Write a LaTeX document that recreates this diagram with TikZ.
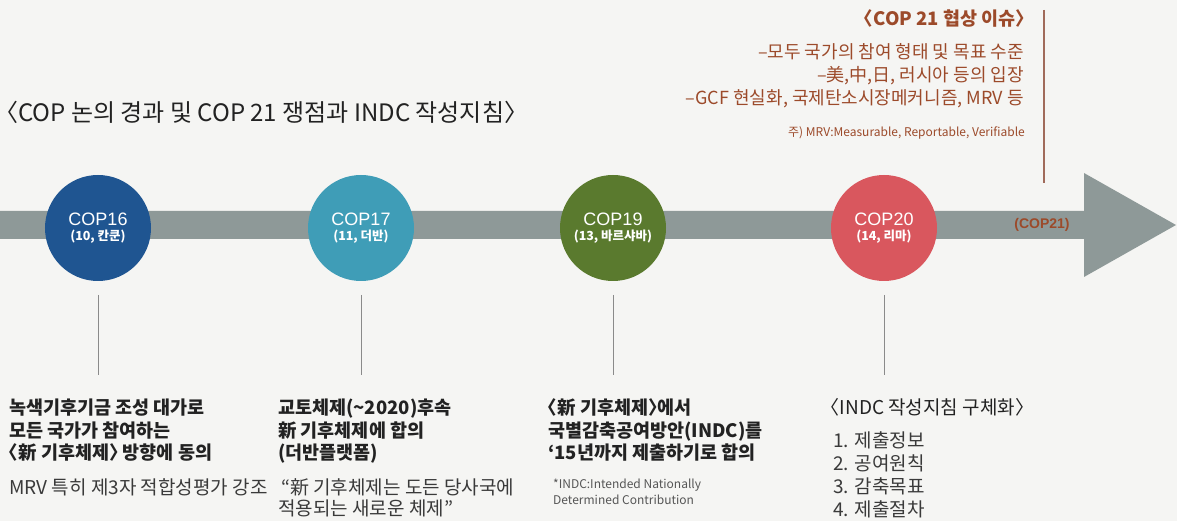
\documentclass[tikz,border=0pt]{standalone}
\usepackage{fontspec}
\newfontfamily\kr[CharacterWidth=AlternateHalf]{Noto Sans CJK KR}
\newfontfamily\ar{Liberation Sans}
\newcommand\myfs[1]{\fontsize{#1bp}{#1bp}\selectfont}
\newcommand\subf{\kr\bfseries\myfs{12.5}}
\definecolor{paper}{HTML}{F5F5F3}
\definecolor{bargray}{HTML}{8E9998}
\definecolor{c16}{HTML}{1F5591}
\definecolor{c17}{HTML}{3F9DB7}
\definecolor{c19}{HTML}{5A7A2E}
\definecolor{c20}{HTML}{D9575E}
\definecolor{brownt}{HTML}{9C4A2A}
\definecolor{brownl}{HTML}{A06A5A}
\definecolor{darkt}{HTML}{222222}
\definecolor{midt}{HTML}{3A3A3A}
\definecolor{lightt}{HTML}{555555}
\definecolor{vline}{HTML}{8A8A8A}
\begin{document}
\begin{tikzpicture}[x=1bp,y=-1bp,
  cop/.style={circle, fill=#1, minimum size=106bp, inner sep=0, text=white, align=center, font=\ar\myfs{18}},
  txt/.style={inner sep=0, anchor=base west},
  rtxt/.style={inner sep=0, anchor=base east},
  bold/.style={txt, text=darkt, font=\kr\bfseries\myfs{18.5}},
  norm/.style={txt, text=midt, font=\kr\myfs{19}},
  small/.style={txt, text=lightt, font=\kr\myfs{12}},
  brown/.style={rtxt, text=brownt, font=\kr\myfs{18}},
  tick/.style={vline, line width=1bp}
]
\useasboundingbox (0,0) rectangle (1177,521);
\fill[paper] (0,0) rectangle (1177,521);

% title
\node[txt, text=darkt, font=\kr\myfs{24}] (title) at (6,122) {〈COP 논의 경과 및 COP 21 쟁점과 INDC 작성지침〉};

% timeline arrow
\fill[bargray] (0,211) -- (1084,211) -- (1084,173) -- (1176,225) -- (1084,277) -- (1084,239) -- (0,239) -- cycle;

% circles
\node[cop=c16] (n16) at (98,228) {COP16\\[-3bp]{\subf (10, 칸쿤)}};
\node[cop=c17] (n17) at (361,228) {COP17\\[-3bp]{\subf (11, 더반)}};
\node[cop=c19] (n19) at (613,228) {COP19\\[-3bp]{\subf (13, 바르샤바)}};
\node[cop=c20] (n20) at (884,228) {COP20\\[-3bp]{\subf (14, 리마)}};
\node[inner sep=0, text=brownt, font=\ar\bfseries\myfs{14}] (n21) at (1042,225) {(COP21)};

% ticks below circles
\foreach \n/\x in {16/98,17/361,19/613,20/884}{
  \coordinate (t\n a) at (\x,295);
  \coordinate (t\n b) at (\x,375);
  \draw[tick] (t\n a) -- (t\n b);
}

% top right issues
\coordinate (ra) at (1044,10);
\coordinate (rb) at (1044,183);
\draw[brownl, line width=1.2bp] (ra) -- (rb);
\node[rtxt, text=brownt, font=\kr\bfseries\myfs{18.5}] (iss) at (1025,26) {〈COP 21 협상 이슈〉};
\node[brown] (is1) at (1024,59) {–모두 국가의 참여 형태 및 목표 수준};
\node[brown] (is2) at (1024,82) {–美,中,日, 러시아 등의 입장};
\node[brown] (is3) at (1024,105) {–GCF 현실화, 국제탄소시장메커니즘, MRV 등};
\node[rtxt, text=brownt, font=\kr\myfs{12}] (isn) at (1025,137) {주) MRV:Measurable, Reportable, Verifiable};

% column 1
\node[bold] (a1) at (9,414) {녹색기후기금 조성 대가로};
\node[bold] (a2) at (9,437) {모든 국가가 참여하는};
\node[bold] (a3) at (9,459) {〈新 기후체제〉 방향에 동의};
\node[norm] (a4) at (9,494) {MRV 특히 제3자 적합성평가 강조};

% column 2
\node[bold] (b1) at (278,414) {교토체제(\textasciitilde2020)후속};
\node[bold] (b2) at (278,437) {新 기후체제에 합의};
\node[bold] (b3) at (278,459) {(더반플랫폼)};
\node[norm] (b4) at (281,494) {“新 기후체제는 도든 당사국에};
\node[norm] (b5) at (278,515) {적용되는 새로운 체제”};

% column 3
\node[bold] (c1) at (548,414) {〈新 기후체제〉에서};
\node[bold] (c2) at (548,437) {국별감축공여방안(INDC)를};
\node[bold] (c3) at (548,459) {‘15년까지 제출하기로 합의};
\node[small] (c4) at (553,488) {*INDC:Intended Nationally};
\node[small] (c5) at (553,504) {Determined Contribution};

% column 4
\node[norm, text=darkt] (d1) at (830,414) {〈INDC 작성지침 구체화〉};
\node[norm] (d2) at (833,447) {1. 제출정보};
\node[norm] (d3) at (833,470) {2. 공여원칙};
\node[norm] (d4) at (833,493) {3. 감축목표};
\node[norm] (d5) at (833,516) {4. 제출절차};
\end{tikzpicture}
\end{document}
